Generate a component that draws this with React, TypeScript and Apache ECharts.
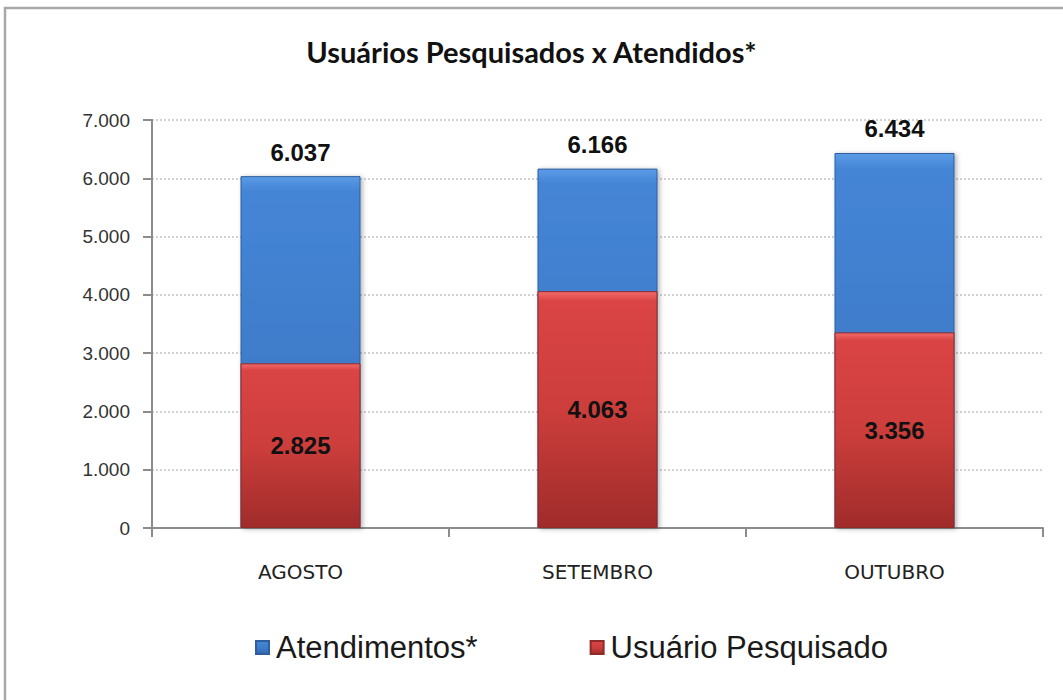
import React, { useEffect, useRef } from "react";
import * as echarts from "echarts";

const categories = ["AGOSTO", "SETEMBRO", "OUTUBRO"];
const atendimentos = [6037, 6166, 6434];
const pesquisados = [2825, 4063, 3356];
const yTicks = { min: 0, max: 7000, interval: 1000 };

const fmt = (v: number) => {
  const s = String(Math.round(v));
  return s.replace(/\B(?=(\d{3})+(?!\d))/g, ".");
};

const blueGrad = () =>
  new echarts.graphic.LinearGradient(0, 0, 0, 1, [
    { offset: 0, color: "#5b9be6" },
    { offset: 0.04, color: "#4585d6" },
    { offset: 0.5, color: "#3f7dcb" },
    { offset: 1, color: "#3468b0" },
  ]);
const redGrad = () =>
  new echarts.graphic.LinearGradient(0, 0, 0, 1, [
    { offset: 0, color: "#f06a6a" },
    { offset: 0.04, color: "#da4444" },
    { offset: 0.5, color: "#cc3e3c" },
    { offset: 1, color: "#a02c2a" },
  ]);

export default function App() {
  const ref = useRef<HTMLDivElement>(null);
  useEffect(() => {
    document.body.style.margin = "0";
    const chart = echarts.init(ref.current!, null, { renderer: "svg" });
    chart.setOption({
      animation: false,
      backgroundColor: "#ffffff",
      title: {
        text: "Usuários Pesquisados x Atendidos*",
        left: "center",
        top: 32,
        textStyle: {
          fontFamily: "Lato",
          fontWeight: "bold",
          fontSize: 29,
          color: "#111",
        },
      },
      graphic: [
        {
          type: "rect",
          shape: { x: 5, y: 8, width: 1100, height: 800 },
          style: { fill: "none", stroke: "#a8a8a8", lineWidth: 2.5 },
          silent: true,
        },
      ],
      legend: {
        left: 250,
        top: 627,
        itemWidth: 13,
        itemHeight: 13,
        itemGap: 112,
        icon: "rect",
        data: [
          { name: "Atendimentos*", itemStyle: { color: blueGrad() } },
          { name: "Usuário Pesquisado", itemStyle: { color: redGrad() } },
        ],
        textStyle: {
          fontFamily: "Liberation Sans",
          fontSize: 31,
          color: "#1a1a1a",
          padding: [0, 0, 0, 2],
        },
      },
      grid: { left: 152, right: 20, top: 120, bottom: 172 },
      xAxis: {
        type: "category",
        data: categories,
        axisLine: { lineStyle: { color: "#8c8c8c", width: 2 } },
        axisTick: {
          show: true,
          length: 9,
          alignWithLabel: false,
          lineStyle: { color: "#8c8c8c", width: 2 },
        },
        axisLabel: {
          margin: 34,
          fontFamily: "DejaVu Sans",
          fontSize: 20,
          color: "#222",
        },
      },
      yAxis: {
        type: "value",
        min: yTicks.min,
        max: yTicks.max,
        interval: yTicks.interval,
        axisLine: { show: true, lineStyle: { color: "#8c8c8c", width: 2 } },
        axisTick: { show: true, length: 9, lineStyle: { color: "#8c8c8c", width: 2 } },
        splitLine: {
          lineStyle: { color: "#c4c4c4", type: [2, 2], width: 1.5 },
        },
        axisLabel: {
          margin: 22,
          fontFamily: "Liberation Sans",
          fontSize: 19,
          color: "#333",
          formatter: (v: number) => fmt(v),
        },
      },
      series: [
        {
          name: "Atendimentos*",
          type: "bar",
          data: atendimentos,
          barWidth: 120,
          barGap: "-100%",
          itemStyle: {
            color: blueGrad(),
            borderColor: "#2f5e9e",
            borderWidth: 1,
            shadowColor: "rgba(0,0,0,0.3)",
            shadowBlur: 5,
            shadowOffsetX: 2,
            shadowOffsetY: 1,
          },
          label: {
            show: true,
            position: "top",
            distance: 12,
            fontFamily: "Liberation Sans",
            fontWeight: "bold",
            fontSize: 24,
            color: "#111",
            formatter: (p: any) => fmt(p.value),
          },
          z: 2,
        },
        {
          name: "Usuário Pesquisado",
          type: "bar",
          data: pesquisados,
          barWidth: 120,
          itemStyle: {
            color: redGrad(),
            borderColor: "#8e2a28",
            borderWidth: 1,
          },
          label: {
            show: true,
            position: "inside",
            fontFamily: "Liberation Sans",
            fontWeight: "bold",
            fontSize: 24,
            color: "#111",
            formatter: (p: any) => fmt(p.value),
          },
          z: 3,
        },
      ],
    });
    return () => chart.dispose();
  }, []);
  return <div ref={ref} style={{ width: 1063, height: 700 }} />;
}
